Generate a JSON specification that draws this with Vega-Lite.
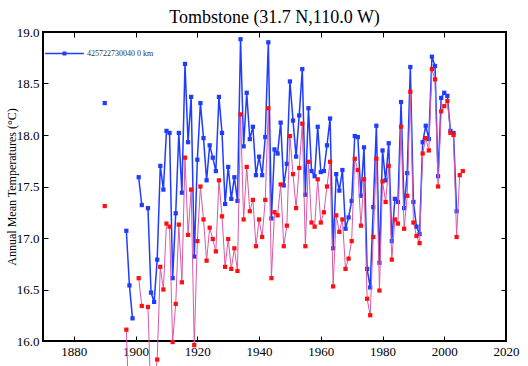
{
  "$schema": "https://vega.github.io/schema/vega-lite/v6.json",
  "width": 463,
  "height": 309,
  "autosize": {"type": "none"},
  "padding": {"left": 43, "top": 32, "right": 22, "bottom": 25},
  "background": "white",
  "title": {"text": "Tombstone (31.7 N,110.0 W)", "font": "Liberation Serif", "fontSize": 18, "fontWeight": "normal", "color": "black", "anchor": "middle", "offset": -1},
  "config": {
    "view": {"stroke": "black", "strokeWidth": 2},
    "axis": {"grid": false, "domain": false, "tickColor": "black", "tickWidth": 1, "labelFont": "Liberation Serif", "labelFontSize": 13, "labelColor": "black", "titleFont": "Liberation Serif", "titleFontWeight": "normal", "titleColor": "black"}
  },
  "datasets": {
    "blue": [
      {"year": 1890, "temp": 18.31}, {"year": 1891, "temp": null},
      {"year": 1897, "temp": 17.07}, {"year": 1898, "temp": 16.54}, {"year": 1899, "temp": 16.22}, {"year": 1900, "temp": null},
      {"year": 1901, "temp": 17.59}, {"year": 1902, "temp": 17.32}, {"year": 1903, "temp": null}, {"year": 1904, "temp": 17.29},
      {"year": 1905, "temp": 16.47}, {"year": 1906, "temp": 16.38}, {"year": 1907, "temp": 16.79}, {"year": 1908, "temp": 17.70},
      {"year": 1909, "temp": 17.47}, {"year": 1910, "temp": 18.04}, {"year": 1911, "temp": 18.02}, {"year": 1912, "temp": 16.61},
      {"year": 1913, "temp": 17.24}, {"year": 1914, "temp": 18.02}, {"year": 1915, "temp": 17.44}, {"year": 1916, "temp": 18.69},
      {"year": 1917, "temp": 17.93}, {"year": 1918, "temp": 18.37}, {"year": 1919, "temp": 16.82}, {"year": 1920, "temp": 17.76},
      {"year": 1921, "temp": 18.31}, {"year": 1922, "temp": 17.97}, {"year": 1923, "temp": 17.56}, {"year": 1924, "temp": 17.90},
      {"year": 1925, "temp": 17.78}, {"year": 1926, "temp": 17.65}, {"year": 1927, "temp": 18.37}, {"year": 1928, "temp": 18.02},
      {"year": 1929, "temp": 17.33}, {"year": 1930, "temp": 17.69}, {"year": 1931, "temp": 17.38}, {"year": 1932, "temp": 17.59},
      {"year": 1933, "temp": 17.36}, {"year": 1934, "temp": 18.93}, {"year": 1935, "temp": 17.89}, {"year": 1936, "temp": 18.41},
      {"year": 1937, "temp": 17.96}, {"year": 1938, "temp": 18.08}, {"year": 1939, "temp": 17.61}, {"year": 1940, "temp": 17.79},
      {"year": 1941, "temp": 17.61}, {"year": 1942, "temp": 17.98}, {"year": 1943, "temp": 18.90}, {"year": 1944, "temp": 17.19},
      {"year": 1945, "temp": 17.86}, {"year": 1946, "temp": 17.82}, {"year": 1947, "temp": 18.12}, {"year": 1948, "temp": 17.51},
      {"year": 1949, "temp": 17.72}, {"year": 1950, "temp": 18.52}, {"year": 1951, "temp": 18.14}, {"year": 1952, "temp": 17.79},
      {"year": 1953, "temp": 18.19}, {"year": 1954, "temp": 18.64}, {"year": 1955, "temp": 17.42}, {"year": 1956, "temp": 18.26},
      {"year": 1957, "temp": 17.65}, {"year": 1958, "temp": 17.60}, {"year": 1959, "temp": 18.08}, {"year": 1960, "temp": 17.64},
      {"year": 1961, "temp": 17.65}, {"year": 1962, "temp": 17.90}, {"year": 1963, "temp": 18.16}, {"year": 1964, "temp": 16.90},
      {"year": 1965, "temp": 17.62}, {"year": 1966, "temp": 17.46}, {"year": 1967, "temp": 17.66}, {"year": 1968, "temp": 17.09},
      {"year": 1969, "temp": 17.20}, {"year": 1970, "temp": 17.36}, {"year": 1971, "temp": 17.99}, {"year": 1972, "temp": 17.98},
      {"year": 1973, "temp": 17.41}, {"year": 1974, "temp": 17.88}, {"year": 1975, "temp": 16.70}, {"year": 1976, "temp": 16.52},
      {"year": 1977, "temp": 17.30}, {"year": 1978, "temp": 18.09}, {"year": 1979, "temp": 16.76}, {"year": 1980, "temp": 17.85},
      {"year": 1981, "temp": 17.56}, {"year": 1982, "temp": 17.92}, {"year": 1983, "temp": 16.97}, {"year": 1984, "temp": 17.38},
      {"year": 1985, "temp": 17.35}, {"year": 1986, "temp": 18.32}, {"year": 1987, "temp": 17.29}, {"year": 1988, "temp": 17.63},
      {"year": 1989, "temp": 18.66}, {"year": 1990, "temp": 17.35}, {"year": 1991, "temp": 17.11}, {"year": 1992, "temp": 17.04},
      {"year": 1993, "temp": 17.93}, {"year": 1994, "temp": 18.09}, {"year": 1995, "temp": 17.96}, {"year": 1996, "temp": 18.76},
      {"year": 1997, "temp": 18.67}, {"year": 1998, "temp": 17.60}, {"year": 1999, "temp": 18.36}, {"year": 2000, "temp": 18.41},
      {"year": 2001, "temp": 18.38}, {"year": 2002, "temp": 18.04}, {"year": 2003, "temp": 18.02}, {"year": 2004, "temp": 17.26}
    ],
    "red": [
      {"year": 1890, "temp": 17.31}, {"year": 1891, "temp": null},
      {"year": 1897, "temp": 16.11}, {"year": 1898, "temp": 15.2}, {"year": 1899, "temp": null}, {"year": 1900, "temp": null},
      {"year": 1901, "temp": 16.61}, {"year": 1902, "temp": 16.34}, {"year": 1903, "temp": null}, {"year": 1904, "temp": 16.33},
      {"year": 1905, "temp": 15.4}, {"year": 1906, "temp": 15.6}, {"year": 1907, "temp": 15.82}, {"year": 1908, "temp": 16.72},
      {"year": 1909, "temp": 16.50}, {"year": 1910, "temp": 17.14}, {"year": 1911, "temp": 17.11}, {"year": 1912, "temp": 15.99},
      {"year": 1913, "temp": 16.36}, {"year": 1914, "temp": 17.13}, {"year": 1915, "temp": 16.57}, {"year": 1916, "temp": 17.78},
      {"year": 1917, "temp": 17.03}, {"year": 1918, "temp": 17.47}, {"year": 1919, "temp": 15.96}, {"year": 1920, "temp": 16.97},
      {"year": 1921, "temp": 17.50}, {"year": 1922, "temp": 17.18}, {"year": 1923, "temp": 16.78}, {"year": 1924, "temp": 17.10},
      {"year": 1925, "temp": 16.99}, {"year": 1926, "temp": 16.87}, {"year": 1927, "temp": 17.56}, {"year": 1928, "temp": 17.21},
      {"year": 1929, "temp": 16.72}, {"year": 1930, "temp": 16.99}, {"year": 1931, "temp": 16.70}, {"year": 1932, "temp": 16.90},
      {"year": 1933, "temp": 16.68}, {"year": 1934, "temp": 18.20}, {"year": 1935, "temp": 17.18}, {"year": 1936, "temp": 17.69},
      {"year": 1937, "temp": 17.26}, {"year": 1938, "temp": 17.37}, {"year": 1939, "temp": 16.92}, {"year": 1940, "temp": 17.18},
      {"year": 1941, "temp": 17.01}, {"year": 1942, "temp": 17.37}, {"year": 1943, "temp": 18.26}, {"year": 1944, "temp": 16.61},
      {"year": 1945, "temp": 17.25}, {"year": 1946, "temp": 17.22}, {"year": 1947, "temp": 17.52}, {"year": 1948, "temp": 16.92},
      {"year": 1949, "temp": 17.12}, {"year": 1950, "temp": 17.99}, {"year": 1951, "temp": 17.62}, {"year": 1952, "temp": 17.29},
      {"year": 1953, "temp": 17.68}, {"year": 1954, "temp": 18.11}, {"year": 1955, "temp": 16.92}, {"year": 1956, "temp": 17.74},
      {"year": 1957, "temp": 17.15}, {"year": 1958, "temp": 17.11}, {"year": 1959, "temp": 17.57}, {"year": 1960, "temp": 17.15},
      {"year": 1961, "temp": 17.25}, {"year": 1962, "temp": 17.50}, {"year": 1963, "temp": 17.74}, {"year": 1964, "temp": 16.53},
      {"year": 1965, "temp": 17.22}, {"year": 1966, "temp": 17.06}, {"year": 1967, "temp": 17.18}, {"year": 1968, "temp": 16.70},
      {"year": 1969, "temp": 16.80}, {"year": 1970, "temp": 16.97}, {"year": 1971, "temp": 17.77}, {"year": 1972, "temp": 17.66},
      {"year": 1973, "temp": 17.12}, {"year": 1974, "temp": 17.57}, {"year": 1975, "temp": 16.41}, {"year": 1976, "temp": 16.25},
      {"year": 1977, "temp": 17.01}, {"year": 1978, "temp": 17.77}, {"year": 1979, "temp": 16.49}, {"year": 1980, "temp": 17.55},
      {"year": 1981, "temp": 17.35}, {"year": 1982, "temp": 17.70}, {"year": 1983, "temp": 16.79}, {"year": 1984, "temp": 17.18},
      {"year": 1985, "temp": 17.14}, {"year": 1986, "temp": 18.08}, {"year": 1987, "temp": 17.09}, {"year": 1988, "temp": 17.41},
      {"year": 1989, "temp": 18.42}, {"year": 1990, "temp": 17.15}, {"year": 1991, "temp": 17.02}, {"year": 1992, "temp": 16.95},
      {"year": 1993, "temp": 17.82}, {"year": 1994, "temp": 17.97}, {"year": 1995, "temp": 17.85}, {"year": 1996, "temp": 18.64},
      {"year": 1997, "temp": 18.54}, {"year": 1998, "temp": 17.50}, {"year": 1999, "temp": 18.23}, {"year": 2000, "temp": 18.28},
      {"year": 2001, "temp": 18.33}, {"year": 2002, "temp": 18.02}, {"year": 2003, "temp": 18.00}, {"year": 2004, "temp": 17.01},
      {"year": 2005, "temp": 17.61}, {"year": 2006, "temp": 17.65}
    ]
  },
  "layer": [
    {
      "data": {"name": "blue"},
      "mark": {"type": "line", "strokeWidth": 1.5, "point": {"shape": "square", "filled": true, "size": 18}},
      "encoding": {
        "x": {"field": "year", "type": "quantitative", "scale": {"domain": [1870, 2020], "nice": false, "zero": false},
          "axis": {"orient": "bottom", "values": [1880, 1900, 1920, 1940, 1960, 1980, 2000, 2020], "format": "d", "tickSize": -5, "labelPadding": 9, "labelFlush": false, "labelOverlap": false, "title": null}},
        "y": {"field": "temp", "type": "quantitative", "scale": {"domain": [16, 19], "nice": false, "zero": false},
          "axis": {"orient": "left", "values": [16, 16.5, 17, 17.5, 18, 18.5, 19], "format": ".1f", "tickSize": -5, "labelPadding": 9, "labelFlush": false, "labelOverlap": false, "title": "Annual Mean Temperatures (°C)", "titleFontSize": 12, "titlePadding": -2}},
        "color": {"datum": "425722730040  0 km", "type": "nominal", "scale": {"range": ["#1f3cff"]},
          "legend": {"orient": "top-left", "offset": 2, "padding": 0, "title": null, "labelFont": "Liberation Serif", "labelFontSize": 8, "labelColor": "#333333", "symbolType": "M-1,-0.04H1V0.04H-1Z M-0.1,-0.1H0.1V0.1H-0.1Z", "symbolSize": 1500, "symbolStrokeWidth": 0, "symbolFillColor": "#1f3cff", "labelOffset": 3,
            "encode": {"symbols": {"update": {"fill": {"value": "#1f3cff"}, "stroke": {"value": "transparent"}, "strokeWidth": {"value": 0}}}}}}
      }
    },
    {
      "data": {"name": "red"},
      "mark": {"type": "line", "strokeWidth": 1, "color": "#d85aa8", "point": {"shape": "square", "filled": true, "size": 18, "color": "#ff1010"}},
      "encoding": {
        "x": {"field": "year", "type": "quantitative", "axis": {"orient": "top", "values": [1880, 1900, 1920, 1940, 1960, 1980, 2000, 2020], "labels": false, "tickSize": -5, "title": null}},
        "y": {"field": "temp", "type": "quantitative", "axis": {"orient": "right", "values": [16, 16.5, 17, 17.5, 18, 18.5, 19], "labels": false, "tickSize": -5, "title": null}}
      }
    }
  ],
  "resolve": {"axis": {"x": "independent", "y": "independent"}}
}
